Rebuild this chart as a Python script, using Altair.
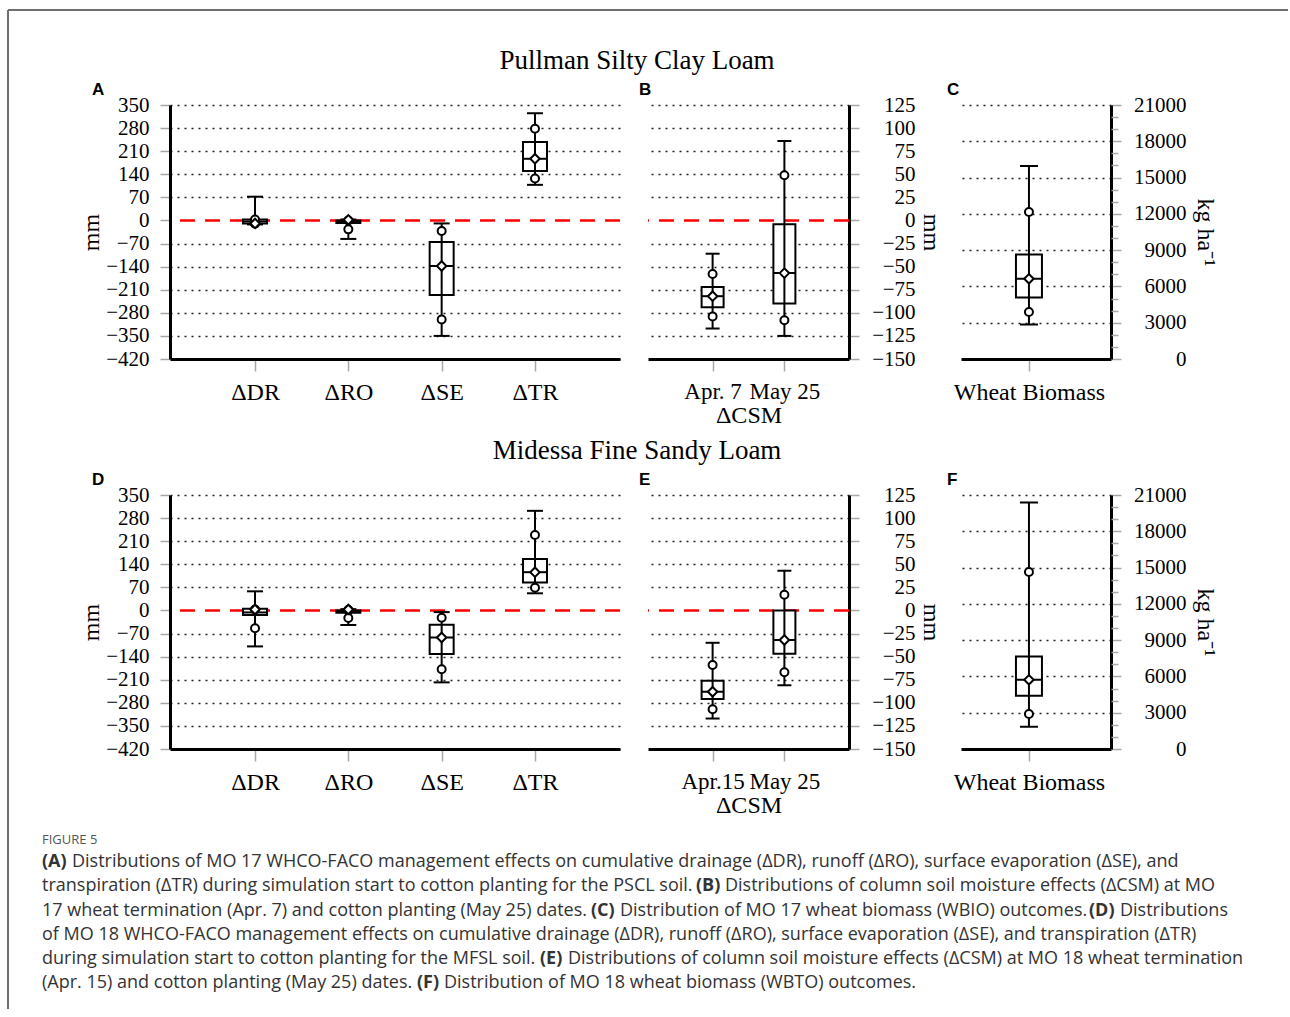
import altair as alt
import pandas as pd

SERIF = "Liberation Serif"
SANS = "Open Sans"
TICK_GRAY = "#a8a8a8"

# ---------------- categories ----------------
flux_cats = ["ΔDR", "ΔRO", "ΔSE", "ΔTR"]
csm_cats_pscl = ["Apr. 7", "May 25"]
csm_cats_mfsl = ["Apr.15", "May 25"]
wb_cats = ["Wheat Biomass"]

# ---------------- axis ticks ----------------
mm_ticks = [-420, -350, -280, -210, -140, -70, 0, 70, 140, 210, 280, 350]
csm_ticks = [-150, -125, -100, -75, -50, -25, 0, 25, 50, 75, 100, 125]
wb_ticks = [0, 3000, 6000, 9000, 12000, 15000, 18000, 21000]
wb_minor_ticks = [1000, 2000, 4000, 5000, 7000, 8000, 10000, 11000,
                  13000, 14000, 16000, 17000, 19000, 20000]

# ---------------- A: PSCL water balance effects (mm) ----------------
a_low = [-12, -56, -350, 108]
a_p10 = [-10, -27, -300, 127]
a_q1 = [-9, -8, -226, 150]
a_median = [-3, -4, -138, 187]
a_mean = [-9, 2, -138, 187]
a_q3 = [3, 0, -65, 238]
a_p90 = [3, 0, -32, 278]
a_high = [72, 3, -9, 325]

# ---------------- B: PSCL column soil moisture effects (mm) ----------------
b_low = [-117, -125]
b_p10 = [-104, -108]
b_q1 = [-94, -90]
b_median = [-82, -57]
b_mean = [-82, -57]
b_q3 = [-72, -4]
b_p90 = [-58, 49]
b_high = [-36, 86]

# ---------------- C: MO 17 wheat biomass (kg/ha) ----------------
c_low = [2860]
c_p10 = [3880]
c_q1 = [5090]
c_median = [6630]
c_mean = [6630]
c_q3 = [8640]
c_p90 = [12160]
c_high = [15960]

# ---------------- D: MFSL water balance effects (mm) ----------------
d_low = [-109, -44, -218, 52]
d_p10 = [-54, -23, -178, 69]
d_q1 = [-14, -7, -132, 85]
d_median = [-6, -3, -82, 116]
d_mean = [3, 3, -82, 116]
d_q3 = [5, 0, -43, 156]
d_p90 = [3, 1, -22, 229]
d_high = [58, 4, -5, 302]

# ---------------- E: MFSL column soil moisture effects (mm) ----------------
e_low = [-117, -81]
e_p10 = [-107, -67]
e_q1 = [-96, -47]
e_median = [-88, -32]
e_mean = [-88, -32]
e_q3 = [-76, 0]
e_p90 = [-59, 17]
e_high = [-35, 43]

# ---------------- F: MO 18 wheat biomass (kg/ha) ----------------
f_low = [1840]
f_p10 = [2890]
f_q1 = [4400]
f_median = [5720]
f_mean = [5720]
f_q3 = [7650]
f_p90 = [14640]
f_high = [20390]

# ---------------- texts ----------------
row_titles = ["Pullman Silty Clay Loam", "Midessa Fine Sandy Loam"]
caption_head = "FIGURE 5"
# each caption line: list of (text, bold) segments
caption_lines = [
    [("(A)", True), ("Distributions of MO 17 WHCO-FACO management effects on cumulative drainage (ΔDR), runoff (ΔRO), surface evaporation (ΔSE), and", False)],
    [("transpiration (ΔTR) during simulation start to cotton planting for the PSCL soil.", False), ("(B)", True), ("Distributions of column soil moisture effects (ΔCSM) at MO", False)],
    [("17 wheat termination (Apr. 7) and cotton planting (May 25) dates.", False), ("(C)", True), ("Distribution of MO 17 wheat biomass (WBIO) outcomes.", False), ("(D)", True), ("Distributions", False)],
    [("of MO 18 WHCO-FACO management effects on cumulative drainage (ΔDR), runoff (ΔRO), surface evaporation (ΔSE), and transpiration (ΔTR)", False)],
    [("during simulation start to cotton planting for the MFSL soil.", False), ("(E)", True), ("Distributions of column soil moisture effects (ΔCSM) at MO 18 wheat termination", False)],
    [("(Apr. 15) and cotton planting (May 25) dates.", False), ("(F)", True), ("Distribution of MO 18 wheat biomass (WBTO) outcomes.", False)],
]
# left edge (px) of each segment on the page
caption_seg_x = [
    [42, 72],
    [42, 696, 725],
    [42, 591, 620, 1089, 1120],
    [42],
    [42, 540, 568],
    [42, 417, 444],
]
caption_line_y = [862, 886, 911, 935, 959, 983]


def stats_frame(cats, lo, p10, q1, med, mean, q3, p90, hi):
    return pd.DataFrame({"cat": cats, "lo": lo, "p10": p10, "q1": q1, "med": med,
                         "mean": mean, "q3": q3, "p90": p90, "hi": hi})


def make_panel(df, cats, y_dom, y_ticks, width, box_w, cap_w, letter, letter_dx, letter_off,
               y_orient, y_title, x_title, x_pad, x_align, label_pad, title_pad,
               zero_line, minor_ticks=None, x_label_size=24):
    xs = alt.Scale(type="point", domain=cats, padding=x_pad, align=x_align)
    ys = alt.Scale(domain=y_dom, nice=False, zero=False)
    xax = alt.Axis(orient="bottom", labelFont=SERIF, labelFontSize=x_label_size,
                   labelColor="black", labelAngle=0, labelPadding=9, domainColor="black",
                   domainWidth=3, tickColor=TICK_GRAY, tickSize=12, tickWidth=1.5,
                   titleFont=SERIF, titleFontSize=24, titleFontWeight="normal",
                   titleColor="black", titlePadding=0, grid=False)
    yax = alt.Axis(values=y_ticks, orient=y_orient, format="d", labelFont=SERIF,
                   labelFontSize=21, labelColor="black", labelPadding=label_pad,
                   labelAlign="right", labelBaseline="middle", labelOverlap=False,
                   domainColor="black", domainWidth=3, tickColor=TICK_GRAY,
                   tickSize=10, tickWidth=1.5, grid=True, gridColor="#222222",
                   gridDash=[2, 5], gridWidth=1.6,
                   gridOpacity={"condition": {"test": "datum.value == 0", "value": 0}, "value": 1},
                   titleFont=SERIF, titleFontSize=24, titleFontWeight="normal",
                   titleColor="black", titlePadding=title_pad)
    x_plain = alt.X("cat:N", scale=xs, axis=None, sort=cats)
    base = alt.Chart(df)
    layers = []
    if zero_line:
        layers.append(
            alt.Chart(pd.DataFrame({"z": [0]}))
            .mark_rule(color="#ff0000", strokeWidth=2.5, strokeDash=[15, 10])
            .encode(y=alt.Y("z:Q", scale=ys, axis=yax, title=y_title))
        )
        box_y = alt.Y("q1:Q", scale=ys, axis=None)
    else:
        box_y = alt.Y("q1:Q", scale=ys, axis=yax, title=y_title)
    layers.append(
        base.mark_bar(size=box_w, fill="white", stroke="black", strokeWidth=2, opacity=1)
        .encode(x=alt.X("cat:N", scale=xs, axis=xax, sort=cats, title=x_title),
                y=box_y, y2="q3:Q")
    )
    layers.append(
        base.mark_rule(color="black", strokeWidth=2)
        .encode(x=x_plain, y=alt.Y("lo:Q", scale=ys, axis=None), y2="hi:Q")
    )
    for col in ["lo", "hi"]:
        layers.append(
            base.mark_tick(color="black", thickness=2, size=cap_w, orient="horizontal", opacity=1)
            .encode(x=x_plain, y=alt.Y(f"{col}:Q", scale=ys, axis=None))
        )
    layers.append(
        base.mark_tick(color="black", thickness=2, size=box_w, orient="horizontal", opacity=1)
        .encode(x=x_plain, y=alt.Y("med:Q", scale=ys, axis=None))
    )
    for col in ["p10", "p90"]:
        layers.append(
            base.mark_point(shape="circle", size=64, filled=True, fill="white",
                            stroke="black", strokeWidth=2, opacity=1)
            .encode(x=x_plain, y=alt.Y(f"{col}:Q", scale=ys, axis=None))
        )
    layers.append(
        base.mark_point(shape="diamond", size=90, filled=True, fill="white",
                        stroke="black", strokeWidth=2, opacity=1)
        .encode(x=x_plain, y=alt.Y("mean:Q", scale=ys, axis=None))
    )
    if minor_ticks is not None:
        minor_ax = alt.Axis(values=minor_ticks, orient=y_orient, labels=False, domain=False,
                            grid=False, tickColor=TICK_GRAY, tickSize=7, tickWidth=1.5,
                            title=None)
        layers.append(
            base.mark_tick(opacity=0).encode(y=alt.Y("hi:Q", scale=ys, axis=minor_ax))
        )
    panel = alt.layer(*layers).properties(
        width=width, height=254,
        title=alt.TitleParams(text=letter, font="Liberation Sans", fontSize=17,
                              fontWeight="bold", color="black", anchor="start",
                              frame="group", dx=letter_dx, baseline="alphabetic",
                              offset=letter_off),
    ).resolve_axis(x="independent", y="independent")
    return panel


dfA = stats_frame(flux_cats, a_low, a_p10, a_q1, a_median, a_mean, a_q3, a_p90, a_high)
dfB = stats_frame(csm_cats_pscl, b_low, b_p10, b_q1, b_median, b_mean, b_q3, b_p90, b_high)
dfC = stats_frame(wb_cats, c_low, c_p10, c_q1, c_median, c_mean, c_q3, c_p90, c_high)
dfD = stats_frame(flux_cats, d_low, d_p10, d_q1, d_median, d_mean, d_q3, d_p90, d_high)
dfE = stats_frame(csm_cats_mfsl, e_low, e_p10, e_q1, e_median, e_mean, e_q3, e_p90, e_high)
dfF = stats_frame(wb_cats, f_low, f_p10, f_q1, f_median, f_mean, f_q3, f_p90, f_high)


def flux_panel(df, letter):
    return make_panel(df, flux_cats, [-420, 350], mm_ticks, 450, 24, 16, letter, -78, -18,
                      "left", "mm", None, 0.911, 0.5, 11, 2, True)


def csm_panel(df, cats, letter):
    return make_panel(df, cats, [-150, 125], csm_ticks, 201, 22, 14, letter, -9, -18,
                      "right", "mm", "ΔCSM", 0.9, 0.5, 56, 3, True, x_label_size=23)


def wb_panel(df, letter):
    return make_panel(df, wb_cats, [0, 21000], wb_ticks, 150, 26, 18, letter, -14, -18,
                      "right", "kg ha⁻¹", None, 0.5, 0.453, 65, 6, False, wb_minor_ticks)


def row(title, pa, pb, pc):
    return alt.hconcat(
        pa,
        alt.hconcat(pb, pc, spacing=112, bounds="flush"),
        spacing=28, bounds="flush",
        title=alt.TitleParams(text=title, font=SERIF, fontSize=27, fontWeight="normal",
                              color="black", anchor="middle", frame="group", dx=467,
                              baseline="alphabetic", offset=-15),
    )


row1 = row(row_titles[0], flux_panel(dfA, "A"), csm_panel(dfB, csm_cats_pscl, "B"), wb_panel(dfC, "C"))
row2 = row(row_titles[1], flux_panel(dfD, "D"), csm_panel(dfE, csm_cats_mfsl, "E"), wb_panel(dfF, "F"))

# caption block (group origin is at absolute x=170, y=885)
OX, OY = 170, 885
cap_layers = []
cap_layers.append(
    alt.Chart(pd.DataFrame({"t": [caption_head]}))
    .mark_text(font=SANS, fontSize=13, color="#555555", align="left", baseline="middle")
    .encode(text="t:N", x=alt.value(42 - OX), y=alt.value(840 - OY))
)
for segs, xs_, yy in zip(caption_lines, caption_seg_x, caption_line_y):
    for (txt, bold), xx in zip(segs, xs_):
        cap_layers.append(
            alt.Chart(pd.DataFrame({"t": [txt]}))
            .mark_text(font=SANS, fontSize=18, color="#333333", align="left",
                       baseline="middle", fontWeight="bold" if bold else "normal")
            .encode(text="t:N", x=alt.value(xx - OX), y=alt.value(yy - OY))
        )
# figure frame (top and left border)
cap_layers.append(
    alt.Chart(pd.DataFrame({"k": [0]}))
    .mark_rule(color="#707070", strokeWidth=2)
    .encode(x=alt.value(8 - OX), x2=alt.value(1288 - OX), y=alt.value(10 - OY))
)
cap_layers.append(
    alt.Chart(pd.DataFrame({"k": [0]}))
    .mark_rule(color="#707070", strokeWidth=2)
    .encode(x=alt.value(8 - OX), y=alt.value(10 - OY), y2=alt.value(1009 - OY))
)
caption = alt.layer(*cap_layers).properties(width=941, height=100)

chart = (
    alt.vconcat(row1, row2, caption, spacing=390, bounds="flush")
    .properties(padding={"left": 7, "top": 9, "right": 0, "bottom": 0}, background="white")
    .configure_view(stroke=None)
)

chart.save("out.html", embed_options={"renderer": "svg", "actions": False})
